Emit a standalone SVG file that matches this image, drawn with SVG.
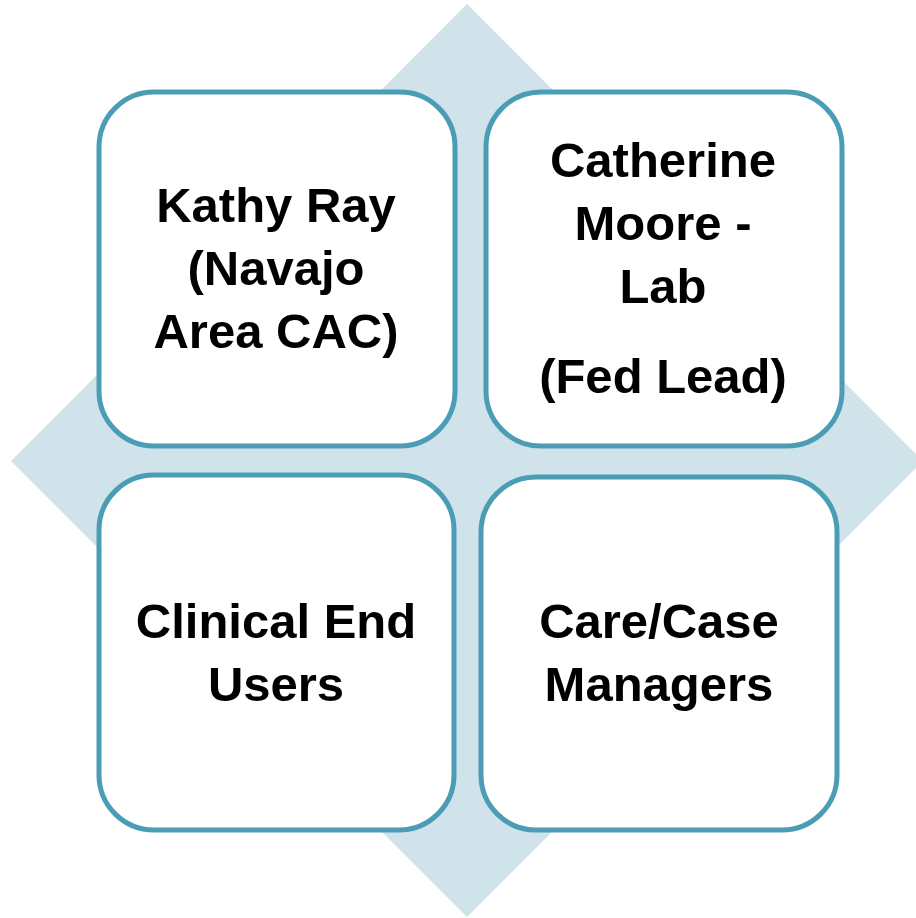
<svg xmlns="http://www.w3.org/2000/svg" width="916" height="918" viewBox="0 0 916 918">
<style>
.box{fill:#ffffff;stroke:#4a9db5;stroke-width:5}
.t{font-family:"Liberation Sans",Arial,sans-serif;font-weight:bold;font-size:49px;fill:#000000;text-anchor:middle}
</style>
<rect width="916" height="918" fill="#ffffff"/>
<g id="background">
<polygon points="467,4 923,461 467,917 11,461" fill="#d0e2ea"/>
</g>
<g id="node-kathy">
<rect class="box" x="99" y="92" width="356" height="354" rx="55" ry="55"/>
<text class="t" x="276" y="222">Kathy Ray</text>
<text class="t" x="276" y="285">(Navajo</text>
<text class="t" x="276" y="348">Area CAC)</text>
</g>
<g id="node-catherine">
<rect class="box" x="486" y="92" width="356" height="354" rx="55" ry="55"/>
<text class="t" x="663" y="177">Catherine</text>
<text class="t" x="663" y="240">Moore -</text>
<text class="t" x="663" y="303">Lab</text>
<text class="t" x="663" y="393">(Fed Lead)</text>
</g>
<g id="node-clinical">
<rect class="box" x="99" y="475" width="355" height="355" rx="55" ry="55"/>
<text class="t" x="276" y="638">Clinical End</text>
<text class="t" x="276" y="701">Users</text>
</g>
<g id="node-care">
<rect class="box" x="481" y="477" width="356" height="353" rx="55" ry="55"/>
<text class="t" x="659" y="638">Care/Case</text>
<text class="t" x="659" y="701">Managers</text>
</g>
<g id="connectors"></g>
</svg>
